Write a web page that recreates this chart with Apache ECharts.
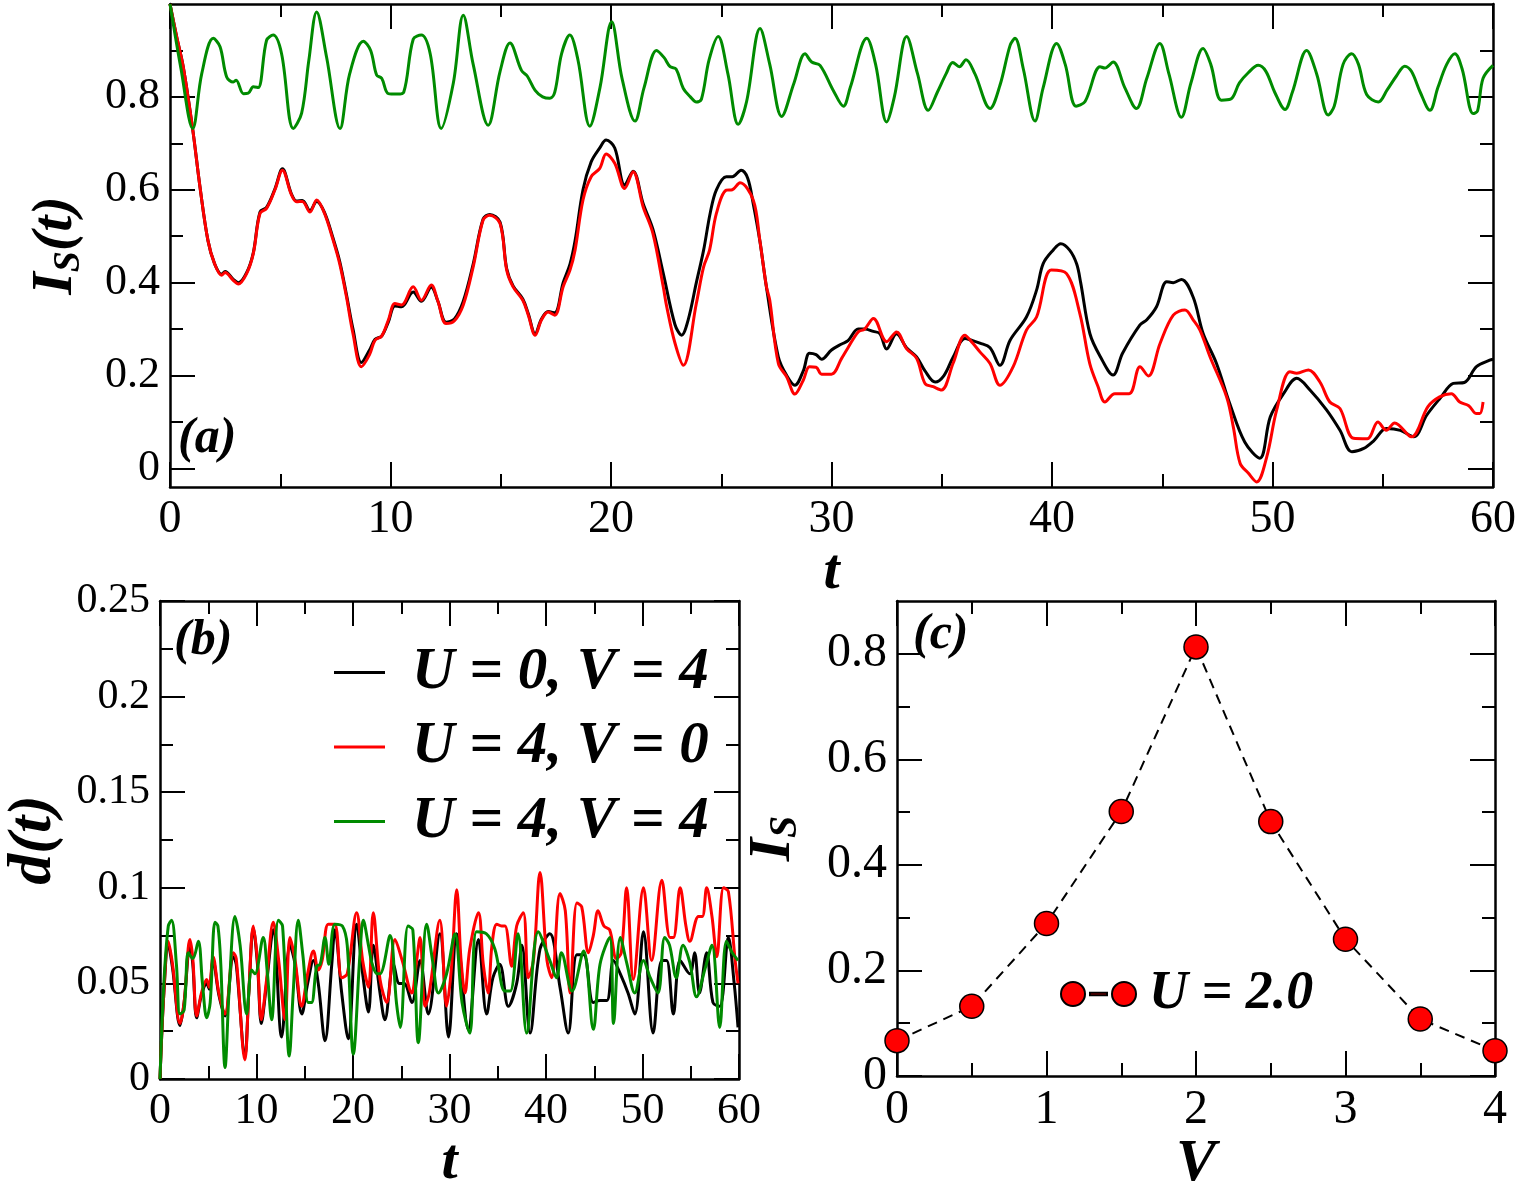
<!DOCTYPE html>
<html>
<head>
<meta charset="utf-8">
<script src="https://cdn.jsdelivr.net/npm/echarts@6/dist/echarts.min.js"></script>
<style>
  html, body { margin: 0; padding: 0; background: #fff; }
  #main { width: 1525px; height: 1182px; }
</style>
</head>
<body>
<div id="main"></div>
<script>
// ---- data ----
// legend names (same three parameter sets in panels a and b)
var names = ['U = 0, V = 4', 'U = 4, V = 0', 'U = 4, V = 4'];
var colors = ['#000000', '#ff0000', '#008b00'];

// panel (a): I_S(t), pairs [t, value]
var aBlack = [[0,1.0],[0.3,0.93],[0.6,0.865],[1.03,0.73],[1.36,0.606],[1.72,0.491],[2.02,0.441],[2.34,0.418],[2.5,0.424],[2.87,0.407],[3.1,0.4],[3.48,0.422],[3.78,0.465],[4.08,0.552],[4.38,0.562],[4.76,0.602],[5.1,0.645],[5.5,0.592],[5.74,0.576],[6.0,0.577],[6.35,0.555],[6.65,0.575],[7.0,0.552],[7.4,0.495],[7.7,0.445],[8.0,0.375],[8.3,0.3],[8.68,0.228],[9.05,0.255],[9.3,0.278],[9.6,0.285],[9.9,0.315],[10.2,0.35],[10.5,0.348],[11.03,0.38],[11.4,0.36],[11.85,0.39],[12.15,0.36],[12.52,0.315],[12.9,0.322],[13.3,0.36],[13.75,0.44],[14.2,0.537],[14.5,0.547],[14.97,0.53],[15.27,0.43],[15.56,0.393],[16.0,0.365],[16.25,0.333],[16.56,0.29],[16.85,0.322],[17.15,0.338],[17.45,0.335],[17.83,0.4],[18.14,0.44],[18.37,0.49],[18.73,0.6],[19.1,0.66],[19.49,0.69],[19.78,0.707],[20.17,0.69],[20.62,0.61],[21.0,0.64],[21.46,0.57],[21.9,0.515],[22.37,0.42],[22.9,0.31],[23.2,0.287],[23.5,0.32],[23.87,0.4],[24.2,0.47],[24.5,0.55],[24.78,0.6],[25.23,0.628],[25.5,0.628],[25.9,0.642],[26.2,0.625],[26.45,0.57],[26.75,0.49],[27.05,0.39],[27.59,0.24],[27.97,0.2],[28.34,0.179],[28.72,0.21],[29.0,0.248],[29.3,0.245],[29.55,0.235],[30.0,0.255],[30.46,0.268],[30.75,0.275],[31.21,0.3],[31.5,0.3],[31.9,0.295],[32.2,0.29],[32.5,0.257],[32.95,0.29],[33.4,0.26],[33.86,0.24],[34.24,0.21],[34.7,0.186],[35.1,0.2],[35.52,0.24],[36.05,0.28],[36.4,0.275],[36.73,0.27],[37.19,0.26],[37.64,0.222],[38.1,0.276],[38.84,0.326],[39.3,0.384],[39.6,0.441],[40.05,0.47],[40.4,0.484],[40.8,0.47],[41.12,0.44],[41.3,0.4],[41.72,0.29],[42.2,0.24],[42.77,0.201],[43.2,0.248],[43.99,0.309],[44.3,0.32],[44.74,0.348],[45.2,0.402],[45.5,0.4],[45.87,0.407],[46.4,0.369],[46.85,0.291],[47.46,0.226],[48.06,0.14],[48.74,0.057],[49.42,0.022],[49.9,0.111],[50.5,0.161],[51.1,0.194],[51.7,0.169],[52.45,0.126],[53.06,0.082],[53.6,0.036],[54.14,0.043],[54.6,0.06],[55.16,0.086],[55.8,0.082],[56.4,0.068],[57.0,0.115],[57.6,0.151],[58.2,0.183],[58.7,0.185],[59.25,0.219],[59.85,0.233],[60,0.235]];
var aRed = [[0,1.0],[0.3,0.93],[0.6,0.865],[1.03,0.73],[1.36,0.606],[1.72,0.491],[2.02,0.441],[2.34,0.416],[2.5,0.422],[2.87,0.405],[3.1,0.397],[3.48,0.42],[3.78,0.463],[4.08,0.549],[4.38,0.56],[4.76,0.6],[5.1,0.642],[5.5,0.59],[5.74,0.574],[6.0,0.575],[6.35,0.552],[6.65,0.578],[7.0,0.55],[7.4,0.491],[7.7,0.44],[8.0,0.37],[8.3,0.29],[8.68,0.219],[9.05,0.245],[9.3,0.276],[9.6,0.285],[9.9,0.319],[10.2,0.355],[10.5,0.352],[11.03,0.391],[11.4,0.362],[11.85,0.395],[12.15,0.36],[12.52,0.312],[12.9,0.318],[13.3,0.352],[13.75,0.434],[14.2,0.535],[14.5,0.545],[14.97,0.527],[15.27,0.427],[15.56,0.391],[16.0,0.362],[16.25,0.33],[16.56,0.287],[16.85,0.32],[17.15,0.337],[17.45,0.33],[17.83,0.391],[18.14,0.427],[18.37,0.47],[18.73,0.578],[19.1,0.628],[19.49,0.646],[19.78,0.677],[20.17,0.657],[20.62,0.603],[21.0,0.639],[21.46,0.563],[21.9,0.506],[22.37,0.391],[22.52,0.35],[22.9,0.27],[23.28,0.222],[23.87,0.355],[24.2,0.434],[24.47,0.47],[24.78,0.549],[25.23,0.599],[25.5,0.6],[25.85,0.615],[26.45,0.578],[26.75,0.491],[27.05,0.391],[27.2,0.362],[27.59,0.226],[27.97,0.197],[28.34,0.16],[28.72,0.19],[29.0,0.219],[29.3,0.218],[29.55,0.203],[30.0,0.203],[30.46,0.237],[30.75,0.26],[31.21,0.294],[31.5,0.3],[31.9,0.323],[32.5,0.273],[32.95,0.294],[33.4,0.258],[33.86,0.237],[34.24,0.183],[34.61,0.176],[34.99,0.169],[35.52,0.227],[36.05,0.287],[36.4,0.27],[36.73,0.251],[37.19,0.226],[37.64,0.179],[38.24,0.219],[38.84,0.298],[39.3,0.326],[39.97,0.427],[40.65,0.42],[41.26,0.334],[41.71,0.226],[42.09,0.176],[42.4,0.143],[42.85,0.161],[43.5,0.161],[43.99,0.219],[44.37,0.199],[44.9,0.269],[45.5,0.33],[46.03,0.341],[46.4,0.32],[46.71,0.298],[47.17,0.24],[47.92,0.154],[48.22,0.09],[48.53,0.011],[48.9,-0.01],[49.28,-0.029],[49.74,0.025],[50.19,0.126],[50.79,0.208],[51.1,0.205],[51.63,0.212],[52.15,0.186],[52.6,0.143],[53.06,0.129],[53.67,0.065],[54.3,0.064],[54.78,0.1],[55.16,0.082],[55.54,0.098],[56.3,0.068],[57.05,0.133],[57.58,0.154],[58.11,0.161],[58.49,0.143],[58.9,0.135],[59.25,0.118],[59.4,0.118],[59.55,0.143]];
var aGreen = [[0,1.0],[0.5,0.86],[1.03,0.732],[1.44,0.85],[1.96,0.926],[2.27,0.908],[2.57,0.843],[2.87,0.832],[3.0,0.836],[3.33,0.807],[3.55,0.808],[3.78,0.822],[4.0,0.82],[4.38,0.922],[4.68,0.933],[5.06,0.893],[5.59,0.732],[5.97,0.765],[6.3,0.88],[6.65,0.983],[7.1,0.886],[7.71,0.732],[8.15,0.85],[8.77,0.92],[9.1,0.9],[9.37,0.847],[9.6,0.84],[9.9,0.807],[10.3,0.806],[10.6,0.81],[11.03,0.924],[11.4,0.933],[11.8,0.893],[12.3,0.732],[12.85,0.83],[13.3,0.976],[13.75,0.87],[14.43,0.739],[14.97,0.855],[15.42,0.916],[15.94,0.857],[16.2,0.845],[16.56,0.814],[16.9,0.8],[17.23,0.797],[17.45,0.81],[17.76,0.893],[18.13,0.933],[18.5,0.88],[19.04,0.737],[19.5,0.82],[20.03,0.962],[20.5,0.84],[21.09,0.748],[21.5,0.82],[22.07,0.9],[22.4,0.885],[22.68,0.865],[22.95,0.86],[23.28,0.818],[23.6,0.8],[23.87,0.789],[24.1,0.795],[24.45,0.88],[24.86,0.93],[25.3,0.85],[25.77,0.741],[26.15,0.79],[26.76,0.947],[27.2,0.87],[27.74,0.758],[28.3,0.83],[28.8,0.893],[29.1,0.875],[29.48,0.868],[30.08,0.814],[30.54,0.78],[30.85,0.82],[31.6,0.926],[32.0,0.87],[32.5,0.746],[32.85,0.8],[33.41,0.93],[33.9,0.85],[34.39,0.771],[34.8,0.81],[35.2,0.85],[35.5,0.874],[35.8,0.865],[36.1,0.88],[36.5,0.85],[37.19,0.775],[37.64,0.825],[38.1,0.911],[38.32,0.926],[38.7,0.86],[39.23,0.748],[39.6,0.82],[40.21,0.915],[40.6,0.87],[41.09,0.78],[41.5,0.79],[42.18,0.865],[42.4,0.862],[42.77,0.875],[43.3,0.82],[43.83,0.775],[44.3,0.84],[44.89,0.915],[45.3,0.85],[45.87,0.756],[46.3,0.83],[46.85,0.904],[47.2,0.87],[47.68,0.793],[48.1,0.795],[48.5,0.83],[48.9,0.852],[49.35,0.868],[49.7,0.855],[50.1,0.81],[50.57,0.773],[50.9,0.81],[51.55,0.9],[52.0,0.85],[52.53,0.761],[52.8,0.78],[53.2,0.87],[53.59,0.893],[53.9,0.87],[54.27,0.805],[54.8,0.789],[55.2,0.815],[55.62,0.845],[56.0,0.866],[56.3,0.855],[56.7,0.81],[57.14,0.771],[57.5,0.82],[57.9,0.87],[58.27,0.893],[58.6,0.86],[59.1,0.764],[59.3,0.77],[59.55,0.84],[60,0.868]];

// panel (b): d(t), pairs [t, value]
var bBlack = [[0,0],[0.4,0.045],[0.86,0.07],[1.3,0.058],[2.07,0.028],[2.5,0.04],[3.1,0.07],[3.4,0.06],[3.8,0.032],[4.3,0.044],[4.84,0.05],[5.1,0.047],[5.5,0.062],[6.1,0.044],[6.74,0.033],[7.6,0.064],[7.9,0.06],[8.8,0.012],[9.2,0.045],[9.67,0.079],[10.1,0.06],[10.5,0.029],[11.0,0.048],[11.74,0.078],[12.6,0.022],[13.47,0.07],[14.0,0.06],[14.7,0.034],[15.3,0.05],[15.9,0.062],[16.4,0.05],[17.1,0.02],[17.8,0.06],[18.13,0.078],[18.83,0.045],[19.5,0.021],[20.38,0.081],[21.0,0.055],[21.6,0.035],[22.1,0.07],[22.8,0.045],[23.3,0.031],[24.2,0.06],[24.8,0.05],[25.3,0.05],[26.1,0.04],[26.95,0.062],[27.8,0.034],[29.0,0.076],[29.9,0.022],[30.75,0.076],[31.95,0.026],[33.0,0.073],[33.85,0.034],[34.5,0.053],[35.2,0.06],[36.1,0.038],[36.96,0.05],[37.5,0.07],[38.35,0.024],[39.38,0.068],[40.4,0.076],[41.45,0.048],[42.3,0.024],[43.2,0.065],[43.9,0.065],[44.9,0.04],[45.6,0.041],[46.3,0.041],[47.0,0.062],[47.7,0.055],[48.5,0.045],[49.2,0.034],[50.1,0.077],[51.1,0.024],[52.0,0.062],[52.5,0.062],[53.2,0.034],[53.9,0.062],[54.9,0.055],[55.4,0.066],[55.9,0.045],[56.65,0.066],[57.3,0.04],[58.0,0.038],[58.9,0.074],[59.5,0.05],[59.9,0.027]];
var bRed = [[0,0],[0.4,0.045],[0.86,0.072],[1.3,0.06],[2.07,0.029],[2.5,0.04],[3.1,0.073],[3.4,0.063],[3.8,0.033],[4.3,0.045],[4.84,0.052],[5.1,0.048],[5.5,0.064],[6.1,0.045],[6.74,0.034],[7.6,0.066],[7.9,0.063],[8.8,0.01],[9.2,0.045],[9.67,0.08],[10.1,0.062],[10.5,0.031],[11.0,0.05],[11.74,0.082],[12.3,0.062],[12.95,0.031],[13.47,0.074],[14.0,0.062],[14.68,0.038],[15.3,0.055],[15.9,0.067],[16.4,0.057],[16.8,0.062],[17.44,0.081],[18.1,0.081],[18.83,0.053],[19.4,0.055],[20.38,0.087],[21.0,0.062],[21.6,0.048],[22.1,0.087],[22.8,0.052],[23.5,0.04],[24.35,0.073],[25.1,0.062],[26.1,0.045],[26.5,0.058],[26.95,0.074],[27.46,0.038],[27.9,0.045],[29.0,0.083],[29.7,0.038],[30.2,0.058],[30.75,0.099],[31.2,0.062],[31.6,0.045],[32.1,0.068],[33.0,0.087],[33.5,0.06],[34.0,0.045],[34.4,0.07],[34.9,0.081],[35.4,0.08],[35.75,0.08],[36.44,0.059],[36.96,0.08],[37.65,0.087],[38.17,0.053],[38.7,0.062],[39.38,0.108],[40.1,0.062],[40.6,0.053],[41.45,0.097],[42.0,0.088],[42.5,0.045],[43.2,0.092],[43.7,0.09],[44.4,0.066],[44.9,0.075],[45.4,0.088],[46.0,0.08],[46.6,0.078],[47.3,0.063],[47.8,0.066],[48.36,0.1],[49.05,0.052],[50.1,0.1],[50.95,0.062],[52.0,0.104],[52.85,0.074],[53.2,0.074],[53.9,0.1],[54.5,0.08],[54.9,0.072],[55.8,0.085],[56.2,0.085],[56.65,0.1],[57.2,0.085],[57.7,0.064],[58.4,0.1],[58.9,0.098],[59.6,0.062],[59.9,0.05]];
var bGreen = [[0,0],[0.4,0.05],[0.86,0.08],[1.2,0.083],[1.7,0.06],[2.07,0.034],[2.5,0.036],[2.93,0.066],[3.4,0.063],[3.97,0.072],[4.4,0.05],[4.84,0.032],[5.2,0.04],[5.7,0.082],[6.0,0.08],[6.3,0.06],[6.74,0.006],[7.2,0.05],[7.77,0.085],[8.3,0.07],[8.98,0.034],[9.5,0.057],[9.84,0.055],[10.7,0.074],[11.1,0.057],[11.57,0.031],[12.26,0.083],[12.7,0.08],[13.4,0.012],[13.8,0.045],[14.33,0.083],[14.8,0.065],[15.37,0.04],[15.7,0.04],[16.24,0.059],[16.6,0.06],[17.1,0.074],[17.5,0.06],[18.13,0.081],[18.9,0.08],[19.4,0.07],[20.03,0.013],[20.73,0.066],[21.07,0.083],[21.6,0.07],[22.0,0.06],[22.5,0.055],[22.8,0.055],[23.84,0.075],[24.5,0.04],[24.9,0.027],[25.7,0.08],[26.2,0.078],[26.77,0.019],[27.64,0.081],[28.3,0.06],[28.85,0.045],[29.7,0.055],[30.57,0.076],[31.3,0.04],[32.1,0.024],[32.8,0.077],[33.8,0.076],[34.7,0.068],[35.75,0.046],[36.3,0.046],[37.1,0.076],[38.0,0.024],[39.2,0.077],[40.4,0.062],[41.1,0.053],[41.6,0.066],[42.7,0.046],[43.9,0.067],[44.9,0.026],[45.6,0.06],[46.6,0.074],[47.0,0.029],[47.7,0.074],[48.4,0.06],[49.2,0.045],[50.1,0.062],[50.8,0.053],[51.6,0.045],[52.3,0.074],[52.8,0.07],[53.5,0.053],[54.2,0.07],[54.9,0.061],[55.6,0.043],[56.5,0.058],[57.2,0.07],[58.0,0.027],[58.7,0.072],[59.3,0.066],[59.9,0.062]];

// panel (c): I_S versus V at U = 2.0
var cV = [0, 0.5, 1, 1.5, 2, 2.5, 3, 3.5, 4];
var cIs = [0.067, 0.132, 0.289, 0.501, 0.813, 0.482, 0.259, 0.108, 0.048];

// tick positions
var aXMajor = [0, 10, 20, 30, 40, 50, 60];
var aXMinor = [5, 15, 25, 35, 45, 55];
var aYMajor = [0, 0.2, 0.4, 0.6, 0.8];
var aYMinor = [0.1, 0.3, 0.5, 0.7, 0.9];
var bYMajor = [0, 0.05, 0.1, 0.15, 0.2, 0.25];
var bYMinor = [0.025, 0.075, 0.125, 0.175, 0.225];
var cXMajor = [0, 1, 2, 3, 4];
var cXMinor = [0.5, 1.5, 2.5, 3.5];
var cYMajor = [0, 0.2, 0.4, 0.6, 0.8];
var cYMinor = [0.1, 0.3, 0.5, 0.7];

// Times-like face; Liberation Serif is the metric clone
var SERIF = "'Times New Roman', 'Liberation Serif', 'DejaVu Serif', serif";

// bold italic text style
function bi(size, extra) {
    var s = { fontFamily: SERIF, fontSize: size, fontWeight: 'bold', fontStyle: 'italic', color: '#000' };
    for (var k in extra) s[k] = extra[k];
    return s;
}

// one value axis: major ticks (with optional labels) or minor ticks only
function axis(grid, pos, min, max, ticks, major, labels, labelSize, extra) {
    var a = {
        type: 'value', gridIndex: grid, position: pos, min: min, max: max,
        axisLine: { show: major, onZero: false, lineStyle: { color: '#000', width: 2.5 } },
        axisTick: { show: true, inside: true, length: major ? 25 : 13, customValues: ticks,
                    lineStyle: { color: '#000', width: 2 } },
        axisLabel: { show: false },
        splitLine: { show: false }
    };
    if (labels) {
        a.axisLabel = { show: true, customValues: labels, margin: 10,
                        fontFamily: SERIF, fontStyle: 'normal', fontWeight: 'normal',
                        fontSize: labelSize, color: '#000' };
    }
    for (var k in extra) a[k] = extra[k];
    return a;
}

var xAxes = [], yAxes = [];
// grid 0: panel (a)
xAxes.push(axis(0, 'bottom', 0, 60, aXMajor, true, aXMajor, 46, {
    name: 't', nameLocation: 'middle', nameGap: 48, nameTextStyle: bi(58) }));
xAxes.push(axis(0, 'bottom', 0, 60, aXMinor, false));
xAxes.push(axis(0, 'top', 0, 60, aXMajor, true));
xAxes.push(axis(0, 'top', 0, 60, aXMinor, false));
yAxes.push(axis(0, 'left', -0.04, 1.0, aYMajor, true, aYMajor, 44, {
    name: '{i|I}{s|S}{i|(t)}', nameLocation: 'middle', nameGap: 82,
    nameTextStyle: { rich: {
        i: bi(58, { lineHeight: 64 }),
        s: bi(38, { lineHeight: 38, padding: [26, 0, 0, 0] })
    } } }));
yAxes.push(axis(0, 'left', -0.04, 1.0, aYMinor, false));
yAxes.push(axis(0, 'right', -0.04, 1.0, aYMajor, true));
yAxes.push(axis(0, 'right', -0.04, 1.0, aYMinor, false));

// grid 1: panel (b)
xAxes.push(axis(1, 'bottom', 0, 60, aXMajor, true, aXMajor, 44, {
    name: 't', nameLocation: 'middle', nameGap: 48, nameTextStyle: bi(58) }));
xAxes.push(axis(1, 'bottom', 0, 60, aXMinor, false));
xAxes.push(axis(1, 'top', 0, 60, aXMajor, true));
xAxes.push(axis(1, 'top', 0, 60, aXMinor, false));
yAxes.push(axis(1, 'left', 0, 0.25, bYMajor, true, bYMajor, 42, {
    name: 'd(t)', nameLocation: 'middle', nameGap: 95, nameTextStyle: bi(62) }));
yAxes.push(axis(1, 'left', 0, 0.25, bYMinor, false));
yAxes.push(axis(1, 'right', 0, 0.25, bYMajor, true));
yAxes.push(axis(1, 'right', 0, 0.25, bYMinor, false));

// grid 2: panel (c)
xAxes.push(axis(2, 'bottom', 0, 4, cXMajor, true, cXMajor, 48, {
    name: 'V', nameLocation: 'middle', nameGap: 50, nameTextStyle: bi(60) }));
xAxes.push(axis(2, 'bottom', 0, 4, cXMinor, false));
xAxes.push(axis(2, 'top', 0, 4, cXMajor, true));
xAxes.push(axis(2, 'top', 0, 4, cXMinor, false));
yAxes.push(axis(2, 'left', 0, 0.9, cYMajor, true, cYMajor, 48, {
    name: '{i|I}{s|S}', nameLocation: 'middle', nameGap: 92,
    nameTextStyle: { rich: {
        i: bi(60, { lineHeight: 64 }),
        s: bi(40, { lineHeight: 40, padding: [26, 0, 0, 0] })
    } } }));
yAxes.push(axis(2, 'left', 0, 0.9, cYMinor, false));
yAxes.push(axis(2, 'right', 0, 0.9, cYMajor, true));
yAxes.push(axis(2, 'right', 0, 0.9, cYMinor, false));

function curve(name, data, color, xi, yi) {
    return {
        type: 'line', name: name, data: data, xAxisIndex: xi, yAxisIndex: yi,
        showSymbol: false, symbol: 'none', smooth: 0.35,
        lineStyle: { color: color, width: 3 }, itemStyle: { color: color },
        animation: false
    };
}

var cPoints = cV.map(function(v, i) { return [v, cIs[i]]; });

var option = {
    backgroundColor: '#fff',
    animation: false,
    textStyle: { fontFamily: SERIF },
    grid: [
        { left: 170, top: 4, width: 1323, height: 483, outerBoundsMode: 'none' },
        { left: 160, top: 601, width: 579, height: 478, outerBoundsMode: 'none' },
        { left: 897, top: 601, width: 598, height: 475, outerBoundsMode: 'none' }
    ],
    xAxis: xAxes,
    yAxis: yAxes,
    title: [
        { text: '(a)', left: 178, top: 414, padding: 0, textStyle: bi(50) },
        { text: '(b)', left: 174, top: 616, padding: 0, textStyle: bi(50) },
        { text: '(c)', left: 913, top: 610, padding: 0, textStyle: bi(50) }
    ],
    legend: [
        {
            data: names, orient: 'vertical', left: 334, top: 643, padding: 0,
            icon: 'rect', itemWidth: 51, itemHeight: 3, itemGap: 15.5,
            textStyle: bi(59, { lineHeight: 50, padding: [0, 0, 0, 22] })
        },
        {
            data: ['U = 2.0'], left: 1060, top: 967, padding: 0,
            icon: 'path://M0,12A12,12,0,1,0,24,12A12,12,0,1,0,0,12Z M51,12A12,12,0,1,0,75,12A12,12,0,1,0,51,12Z M29,10.8L46,10.8L46,13.2L29,13.2Z',
            itemWidth: 75, itemHeight: 24,
            textStyle: bi(54, { lineHeight: 50, padding: [0, 0, 0, 8] })
        }
    ],
    series: [
        curve(names[0], aBlack, colors[0], 0, 0),
        curve(names[1], aRed, colors[1], 0, 0),
        curve(names[2], aGreen, colors[2], 0, 0),
        curve(names[0], bBlack, colors[0], 4, 4),
        curve(names[1], bRed, colors[1], 4, 4),
        curve(names[2], bGreen, colors[2], 4, 4),
        {
            type: 'line', name: 'U = 2.0', data: cPoints, xAxisIndex: 8, yAxisIndex: 8,
            symbol: 'circle', symbolSize: 24, showSymbol: true, clip: false,
            lineStyle: { color: '#000', width: 2, type: [10, 7] },
            itemStyle: { color: '#ff0000', borderColor: '#000', borderWidth: 1.5 },
            animation: false
        }
    ]
};

var myChart = echarts.init(document.getElementById('main'), null, { renderer: 'canvas' });
myChart.setOption(option);
</script>
</body>
</html>
